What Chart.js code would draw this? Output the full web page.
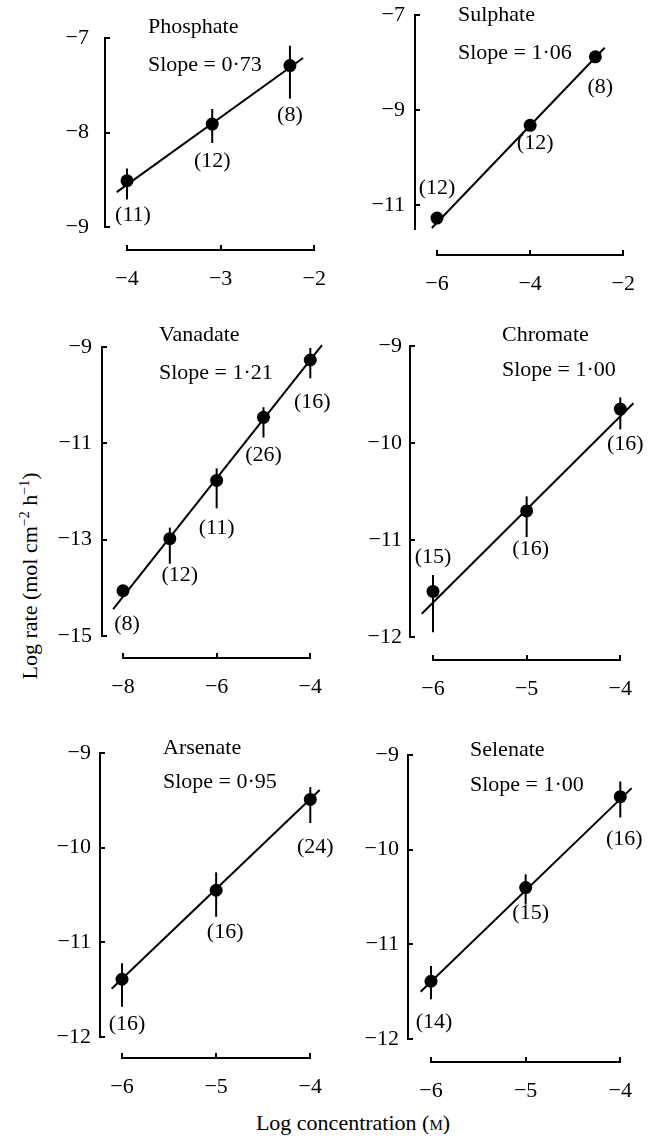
<!DOCTYPE html>
<html>
<head>
<meta charset="utf-8">
<script src="https://cdn.jsdelivr.net/npm/chart.js@4.4.0/dist/chart.umd.min.js"></script>
<style>
  body { margin: 0; background: #fff; }
  #fig { position: relative; width: 648px; height: 1136px; overflow: hidden; font-family: 'Liberation Serif', serif; color: #000; }
  #fig canvas { position: absolute; }
  .axis-title { position: absolute; font-size: 22px; white-space: nowrap; }
  .axis-title sup { font-size: 14px; }
  #ytitle { left: 30px; top: 576px; transform: translate(-50%, -50%) rotate(-90deg); }
  #xtitle { left: 353px; top: 1123px; transform: translate(-50%, -50%); }
</style>
</head>
<body>
<div id="fig">
  <div class="axis-title" id="ytitle">Log rate (mol cm<sup>−2</sup> h<sup>−1</sup>)</div>
  <div class="axis-title" id="xtitle">Log concentration (<span style="font-variant: small-caps">m</span>)</div>
</div>
<script>
'use strict';

// Data (one entry per panel)
const names = ['Phosphate', 'Sulphate', 'Vanadate', 'Chromate', 'Arsenate', 'Selenate'];
const slopes = ['0·73', '1·06', '1·21', '1·00', '0·95', '1·00'];

const concs = [
  [-4, -3.09, -2.26],
  [-6, -4, -2.6],
  [-8, -7, -6, -5, -4],
  [-6, -5, -4],
  [-6, -5, -4],
  [-6, -5, -4],
];
const rates = [
  [-8.51, -7.91, -7.29],
  [-11.27, -9.32, -7.88],
  [-14.06, -12.98, -11.77, -10.46, -9.27],
  [-11.53, -10.7, -9.65],
  [-11.39, -10.45, -9.49],
  [-11.39, -10.4, -9.44],
];
const errLow = [
  [-8.71, -8.11, -7.64],
  [-11.35, -9.4, -7.96],
  [-14.12, -13.5, -12.35, -10.88, -9.65],
  [-11.95, -10.97, -9.86],
  [-11.68, -10.73, -9.74],
  [-11.58, -10.58, -9.66],
];
const errHigh = [
  [-8.38, -7.75, -7.08],
  [-11.19, -9.24, -7.8],
  [-14.0, -12.75, -11.52, -10.25, -9.02],
  [-11.36, -10.55, -9.53],
  [-11.22, -10.26, -9.36],
  [-11.23, -10.26, -9.28],
];
const counts = [
  [11, 12, 8],
  [12, 12, 8],
  [8, 12, 11, 26, 16],
  [15, 16, 16],
  [16, 16, 24],
  [14, 15, 16],
];
const fitX = [
  [-4.11, -2.12],
  [-6.11, -2.4],
  [-8.21, -3.75],
  [-6.12, -3.86],
  [-6.11, -3.9],
  [-6.11, -3.88],
];
const fitY = [
  [-8.63, -7.21],
  [-11.48, -7.69],
  [-14.44, -8.96],
  [-11.76, -9.59],
  [-11.49, -9.39],
  [-11.5, -9.35],
];
const xTicks = [
  [-4, -3, -2],
  [-6, -4, -2],
  [-8, -6, -4],
  [-6, -5, -4],
  [-6, -5, -4],
  [-6, -5, -4],
];
const yTicks = [
  [-9, -8, -7],
  [-11, -9, -7],
  [-15, -13, -11, -9],
  [-12, -11, -10, -9],
  [-12, -11, -10, -9],
  [-12, -11, -10, -9],
];
const yRange = [
  [-9, -7],
  [-11.5, -7],
  [-15, -9],
  [-12, -9],
  [-12, -9],
  [-12, -9],
];

// Layout: plot area of each panel on the page, and how far the axes sit off it
const frames = [
  { left: 127, right: 317, top: 34, bottom: 227, dx: 22, dy: 23 },
  { left: 437, right: 626, top: 15, bottom: 229, dx: 22, dy: 26 },
  { left: 123, right: 313, top: 347, bottom: 636, dx: 21, dy: 22 },
  { left: 433, right: 623, top: 346, bottom: 637, dx: 23, dy: 23 },
  { left: 122, right: 313, top: 753, bottom: 1037, dx: 22, dy: 21 },
  { left: 431, right: 623, top: 755, bottom: 1039, dx: 23, dy: 23 },
];
// title x, title y, slope y (page coords)
const titlePos = [
  [148, 27, 65],
  [458, 15, 53],
  [159, 335, 373],
  [502, 335, 370],
  [163, 748, 782],
  [470, 750, 785],
];
const yLabelGap = [16, 10, 10, 8, 9, 9];
const countOffsets = [
  [[6, 34], [0, 37], [0, 50]],
  [[0, -30], [5, 18], [5, 30]],
  [[4, 33], [10, 37], [0, 48], [0, 38], [2, 42]],
  [[0, -34], [4, 38], [5, 35]],
  [[5, 45], [9, 42], [5, 48]],
  [[3, 41], [5, 26], [4, 43]],
];

const FONT = '"Liberation Serif", serif';
const FONT_SIZE = 22;
const TICK = -5;
const padL = 90;
const padR = 30;
const padT = 30;
const padB = 70;

const minus = v => (v < 0 ? '\u2212' + Math.abs(v) : String(v));

// move the axes off the plot area, like the range-frame axes of the figure
const shiftAxes = {
  id: 'shiftAxes',
  afterLayout(chart, args, opts) {
    const { x, y } = chart.scales;
    y.left -= opts.dx;
    y.right -= opts.dx;
    x.top += opts.dy;
    x.bottom += opts.dy;
  },
};

const panelText = {
  id: 'panelText',
  afterDraw(chart, args, opts) {
    const ctx = chart.ctx;
    ctx.save();
    ctx.fillStyle = '#000';
    ctx.font = `${FONT_SIZE}px ${FONT}`;
    ctx.textBaseline = 'middle';
    ctx.textAlign = 'left';
    ctx.fillText(opts.name, opts.tx, opts.ty);
    ctx.fillText(`Slope = ${opts.slope}`, opts.tx, opts.sy);

    ctx.textAlign = 'center';
    const pts = chart.getDatasetMeta(chart.data.datasets.length - 1).data;
    pts.forEach((pt, j) => {
      const [ox, oy] = opts.offsets[j];
      ctx.fillText(`(${opts.counts[j]})`, pt.x + ox, pt.y + oy);
    });
    ctx.restore();
  },
};

const fig = document.getElementById('fig');

const makePanel = function (i) {
  const f = frames[i];
  const canvas = document.createElement('canvas');
  const w = f.right - f.left + padL + padR;
  const h = f.bottom - f.top + padT + padB;
  const originX = f.left - padL;
  const originY = f.top - padT;
  canvas.width = w;
  canvas.height = h;
  canvas.style.width = `${w}px`;
  canvas.style.height = `${h}px`;
  canvas.style.left = `${originX}px`;
  canvas.style.top = `${originY}px`;
  fig.appendChild(canvas);

  const lineStyle = {
    showLine: true,
    borderColor: '#000',
    borderWidth: 2,
    pointRadius: 0,
    clip: false,
  };

  const datasets = [
    { ...lineStyle, data: fitX[i].map((x, j) => ({ x, y: fitY[i][j] })) },
  ];
  concs[i].forEach((x, j) => {
    datasets.push({
      ...lineStyle,
      data: [
        { x, y: errLow[i][j] },
        { x, y: errHigh[i][j] },
      ],
    });
  });
  datasets.push({
    data: concs[i].map((x, j) => ({ x, y: rates[i][j] })),
    pointRadius: 6.5,
    pointBackgroundColor: '#000',
    pointBorderWidth: 0,
    clip: false,
  });

  const axisFont = { family: FONT, size: FONT_SIZE };

  new Chart(canvas, {
    type: 'scatter',
    data: { datasets },
    options: {
      responsive: false,
      animation: false,
      events: [],
      layout: { padding: { top: padT, right: padR, left: 0, bottom: 0 } },
      plugins: {
        legend: { display: false },
        tooltip: { enabled: false },
        shiftAxes: { dx: f.dx, dy: f.dy },
        panelText: {
          name: names[i],
          slope: slopes[i],
          counts: counts[i],
          offsets: countOffsets[i],
          tx: titlePos[i][0] - originX,
          ty: titlePos[i][1] - originY,
          sy: titlePos[i][2] - originY,
        },
      },
      scales: {
        x: {
          type: 'linear',
          position: 'bottom',
          min: xTicks[i][0],
          max: xTicks[i][xTicks[i].length - 1],
          afterBuildTicks: s => {
            s.ticks = xTicks[i].map(value => ({ value }));
          },
          afterFit: s => {
            s.height = padB;
          },
          grid: {
            drawOnChartArea: false,
            tickLength: TICK,
            color: '#000',
            lineWidth: 2,
          },
          border: { display: true, color: '#000', width: 2 },
          ticks: {
            autoSkip: false,
            maxRotation: 0,
            padding: 21,
            color: '#000',
            font: axisFont,
            callback: minus,
          },
        },
        y: {
          type: 'linear',
          position: 'left',
          min: yRange[i][0],
          max: yRange[i][1],
          afterBuildTicks: s => {
            s.ticks = yTicks[i].map(value => ({ value }));
          },
          afterFit: s => {
            s.width = padL;
          },
          grid: {
            drawOnChartArea: false,
            tickLength: TICK,
            color: '#000',
            lineWidth: 2,
          },
          border: { display: true, color: '#000', width: 2 },
          ticks: {
            autoSkip: false,
            padding: yLabelGap[i] - TICK,
            color: '#000',
            font: axisFont,
            callback: minus,
          },
        },
      },
    },
    plugins: [shiftAxes, panelText],
  });
};

names.forEach((name, i) => makePanel(i));
</script>
</body>
</html>
